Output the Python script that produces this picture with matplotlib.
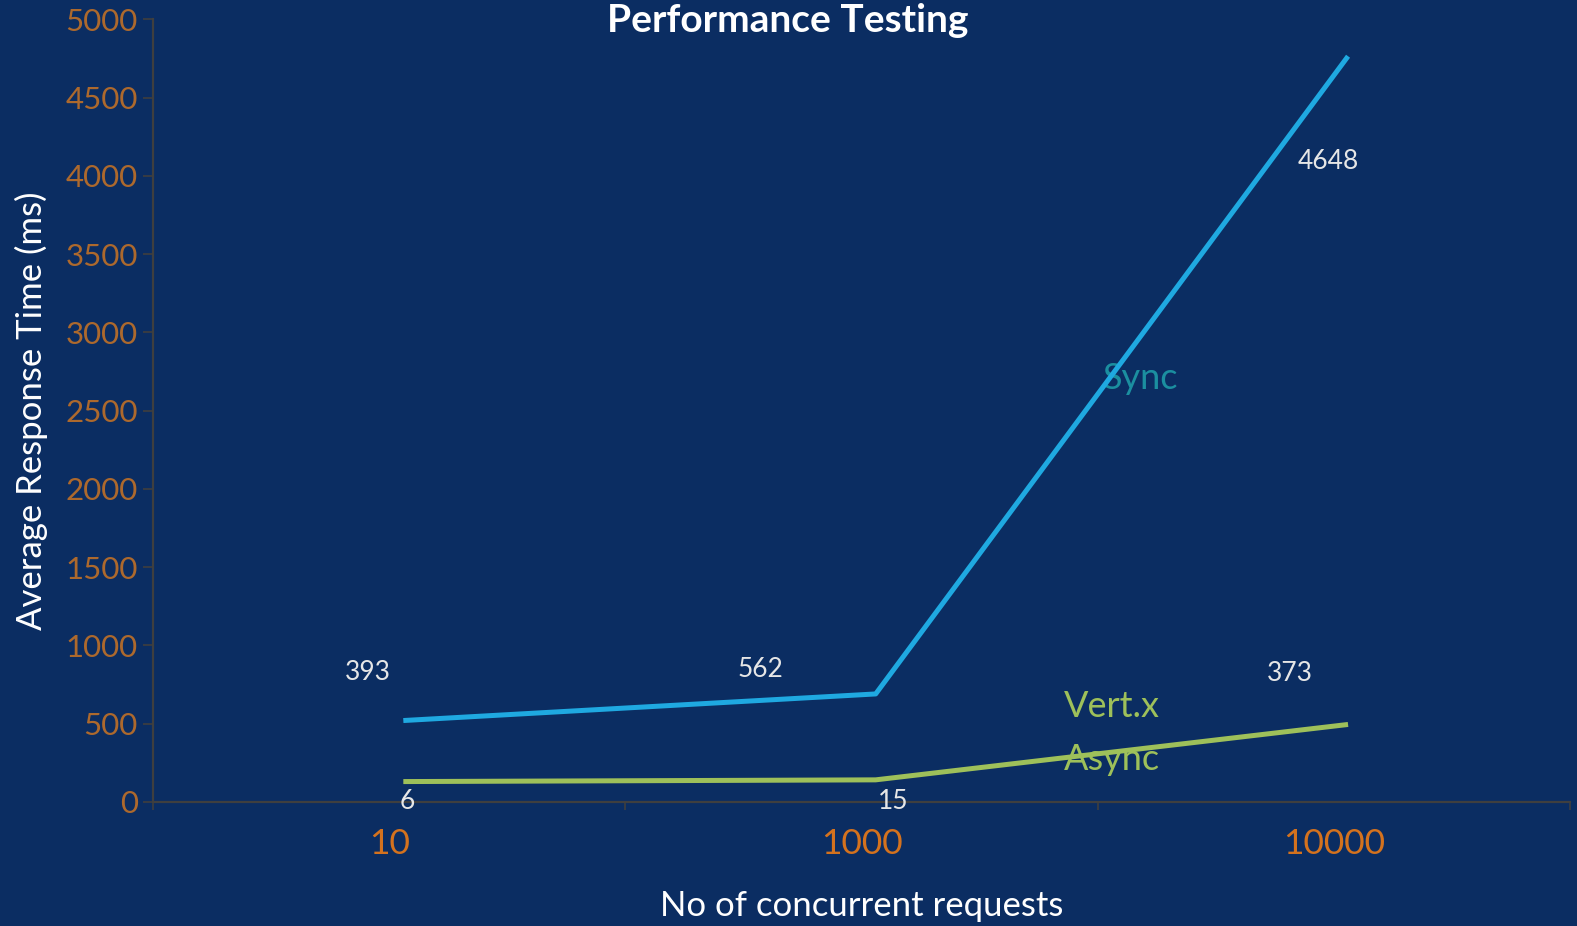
import matplotlib
matplotlib.use("Agg")
import matplotlib.pyplot as plt
from matplotlib.ticker import FixedLocator

plt.rcParams["font.family"] = ["Lato", "DejaVu Sans"]

# ----------------------------------------------------------------------------- data
categories = ["10", "1000", "10000"]
sync_y = [520, 690, 4765]          # plotted height as drawn in the chart
async_y = [130, 141, 495]
sync_labels = ["393", "562", "4648"]   # data labels printed on the chart
async_labels = ["6", "15", "373"]
y_ticks = [0, 500, 1000, 1500, 2000, 2500, 3000, 3500, 4000, 4500, 5000]

BG = "#0b2d62"
SYNC_C = "#1fa9e1"
ASYNC_C = "#9ec05a"
X_SHIFT = 0.03   # points sit slightly right of category centres

fig = plt.figure(figsize=(15.77, 9.26), dpi=100, facecolor=BG)
ax = fig.add_axes([0.097, 0.134, 0.8986, 0.845], facecolor=BG)

xs = [i + X_SHIFT for i in range(len(categories))]
ax.plot(xs, sync_y, color=SYNC_C, lw=3.6, solid_capstyle="butt", zorder=3)
ax.plot(xs, async_y, color=ASYNC_C, lw=3.6, solid_capstyle="butt", zorder=3)

# data labels (pixel offsets from each point)
sync_off = [(-35, 48), (-115, 24), (-20, -105)]
async_off = [(4, -20), (17, -22), (-58, 51)]
for x, y, t, o in zip(xs, sync_y, sync_labels, sync_off):
    ax.annotate(t, (x, y), xytext=o, textcoords="offset pixels", ha="center", va="center",
                color="#e6e6e6", fontsize=19, zorder=4)
for x, y, t, o in zip(xs, async_y, async_labels, async_off):
    ax.annotate(t, (x, y), xytext=o, textcoords="offset pixels", ha="center", va="center",
                color="#e6e6e6", fontsize=19, zorder=4)

# series names
ax.text(1.59, 2705, "Sync", color="#1b8fa0", fontsize=26, ha="center", va="center", zorder=2)
ax.text(1.53, 440, "Vert.x\nAsync", color=ASYNC_C, fontsize=26, ha="center", va="center",
        linespacing=1.75, zorder=2)

# axes
ax.set_xlim(-0.5, 2.5)
ax.set_ylim(0, 5000)
ax.set_yticks(y_ticks)
ax.set_yticklabels([str(v) for v in y_ticks])
ax.xaxis.set_major_locator(FixedLocator([-0.5, 0.5, 1.5, 2.5]))
ax.xaxis.set_minor_locator(FixedLocator(range(len(categories))))
ax.set_xticklabels([""] * 4)
ax.set_xticklabels(categories, minor=True)
ax.tick_params(axis="x", which="major", length=6, width=1.2, color="#3f3f3f", direction="out")
ax.tick_params(axis="x", which="minor", length=0, pad=19, labelsize=25.5, labelcolor="#d4721e")
ax.tick_params(axis="y", length=7, width=1.2, color="#3f3f3f", direction="out", pad=4,
               labelsize=22.5, labelcolor="#ad692d")
for s in ["top", "right"]:
    ax.spines[s].set_visible(False)
for s in ["left", "bottom"]:
    ax.spines[s].set_color("#3f3f3f")
    ax.spines[s].set_linewidth(1.6)

fig.text(0.4997, 1 - 20 / 926, "Performance Testing", color="white", fontsize=28,
         fontweight="bold", ha="center", va="center")
ax.set_xlabel("No of concurrent requests", color="white", fontsize=25)
ax.set_ylabel("Average Response Time (ms)", color="white", fontsize=25)
ax.xaxis.set_label_coords(0.5, -0.113)
ax.yaxis.set_label_coords(-0.074, 0.5)

fig.savefig("out.png", dpi=100, facecolor=BG)
